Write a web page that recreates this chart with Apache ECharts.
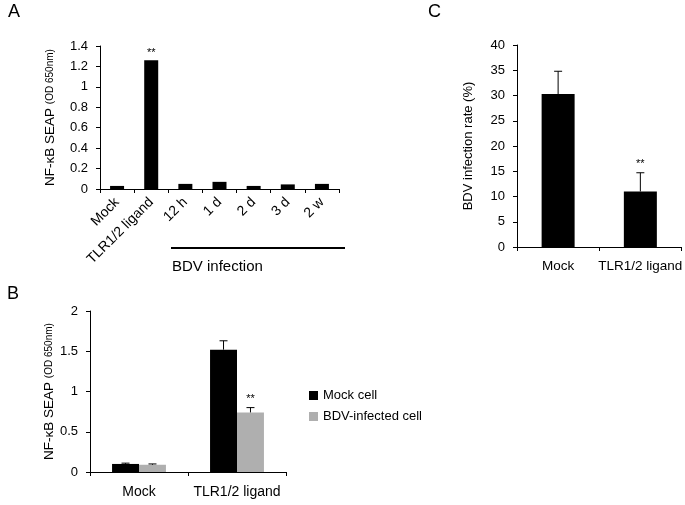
<!DOCTYPE html>
<html><head><meta charset="utf-8">
<script src="https://cdn.jsdelivr.net/npm/echarts@6/dist/echarts.min.js"></script>
<style>html,body{margin:0;padding:0;background:#fff}#c{width:685px;height:505px}</style>
</head><body><div id="c"></div>
<script>
// Panel A
const aCats = ['Mock', 'TLR1/2 ligand', '12 h', '1 d', '2 d', '3 d', '2 w'];
const aValues = [0.03, 1.26, 0.05, 0.07, 0.03, 0.045, 0.05];
const aSig = ['', '**', '', '', '', '', ''];
const aTicks = [0, 0.2, 0.4, 0.6, 0.8, 1, 1.2, 1.4];
// Panel B
const bCats = ['Mock', 'TLR1/2 ligand'];
const bSeriesNames = ['Mock cell', 'BDV-infected cell'];
const bMockCell = [0.10, 1.52];
const bMockCellErr = [0.01, 0.11];
const bInfected = [0.09, 0.74];
const bInfectedErr = [0.01, 0.06];
const bSigMock = ['', ''];
const bSigInf = ['', '**'];
// Panel C
const cCats = ['Mock', 'TLR1/2 ligand'];
const cValues = [30.3, 11.0];
const cErr = [4.5, 3.7];
const cSig = ['', '**'];

const FONT = 'Liberation Sans, Arial, sans-serif';
const chart = echarts.init(document.getElementById('c'));

function errRender(sigs, offsetFrac) {
  return function (params, api) {
    const i = api.value(0), v = api.value(1), e = api.value(2);
    const base = api.coord([i, v]);
    const top = api.coord([i, v + e]);
    const band = api.size([1, 0])[0];
    const x = base[0] + band * offsetFrac;
    const st = { stroke: '#000', lineWidth: 1 };
    const children = [
      { type: 'line', shape: { x1: x, y1: base[1], x2: x, y2: top[1] }, style: st },
      { type: 'line', shape: { x1: x - 4, y1: top[1], x2: x + 4, y2: top[1] }, style: st }
    ];
    if (sigs[i]) {
      children.push({ type: 'text', style: { text: sigs[i], x: x, y: top[1] - 3, textAlign: 'center', textVerticalAlign: 'bottom', font: '11px ' + FONT, fill: '#000' } });
    }
    return { type: 'group', children: children };
  };
}

const axisLine = { show: true, lineStyle: { color: '#000', width: 1 } };
const axisTick = { show: true, length: 4, lineStyle: { color: '#000' } };
const nameRich = { a: { fontSize: 13.5, fontFamily: FONT, color: '#000' }, b: { fontSize: 10, fontFamily: FONT, color: '#000' } };

const option = {
  animation: false,
  textStyle: { fontFamily: FONT, color: '#000' },
  grid: [
    { left: 100, right: 346, top: 46, bottom: 316 },
    { left: 90, right: 399, top: 311, bottom: 33 },
    { left: 517, right: 2, top: 45, bottom: 258 }
  ],
  legend: {
    data: bSeriesNames, orient: 'vertical', left: 304, top: 384,
    icon: 'rect', itemWidth: 9, itemHeight: 9, itemGap: 8,
    textStyle: { fontSize: 13, fontFamily: FONT, color: '#000' }
  },
  xAxis: [
    { gridIndex: 0, type: 'category', data: aCats, axisLine, axisTick,
      axisLabel: { rotate: 45, fontSize: 14, color: '#000', margin: 11, interval: 0, hideOverlap: false } },
    { gridIndex: 1, type: 'category', data: bCats, axisLine, axisTick,
      axisLabel: { fontSize: 14, color: '#000', margin: 13, interval: 0, hideOverlap: false } },
    { gridIndex: 2, type: 'category', data: cCats, axisLine, axisTick,
      axisLabel: { fontSize: 13.5, color: '#000', margin: 12, interval: 0, hideOverlap: false } }
  ],
  yAxis: [
    { gridIndex: 0, type: 'value', min: aTicks[0], max: aTicks[aTicks.length - 1], interval: 0.2,
      axisLine, axisTick, splitLine: { show: false },
      axisLabel: { fontSize: 13, color: '#000', margin: 12 },
      name: '{a|NF-κB SEAP }{b|(OD 650nm)}', nameLocation: 'middle', nameRotate: 90, nameGap: 43,
      nameTextStyle: { rich: nameRich } },
    { gridIndex: 1, type: 'value', min: 0, max: 2, interval: 0.5,
      axisLine, axisTick, splitLine: { show: false },
      axisLabel: { fontSize: 13, color: '#000', margin: 12 },
      name: '{a|NF-κB SEAP }{b|(OD 650nm)}', nameLocation: 'middle', nameRotate: 90, nameGap: 34,
      nameTextStyle: { rich: nameRich } },
    { gridIndex: 2, type: 'value', min: 0, max: 40, interval: 5,
      axisLine, axisTick, splitLine: { show: false },
      axisLabel: { fontSize: 13, color: '#000', margin: 12 },
      name: 'BDV infection rate (%)', nameLocation: 'middle', nameRotate: 90, nameGap: 42,
      nameTextStyle: { fontSize: 13, fontFamily: FONT, color: '#000' } }
  ],
  series: [
    { type: 'bar', xAxisIndex: 0, yAxisIndex: 0, barWidth: 14, itemStyle: { color: '#000' },
      data: aValues.map((v, i) => aSig[i] ? { value: v, label: { show: true, position: 'top', distance: 2, formatter: aSig[i], fontSize: 11, color: '#000' } } : v) },
    { name: bSeriesNames[0], type: 'bar', xAxisIndex: 1, yAxisIndex: 1, barWidth: '27.5%', barGap: '0%', itemStyle: { color: '#000' }, data: bMockCell },
    { name: bSeriesNames[1], type: 'bar', xAxisIndex: 1, yAxisIndex: 1, barWidth: '27.5%', barGap: '0%', itemStyle: { color: '#afafaf' }, data: bInfected },
    { type: 'custom', xAxisIndex: 1, yAxisIndex: 1, renderItem: errRender(bSigMock, -0.1375), encode: { x: 0, y: 1 }, z: 5,
      data: bMockCell.map((v, i) => [i, v, bMockCellErr[i]]) },
    { type: 'custom', xAxisIndex: 1, yAxisIndex: 1, renderItem: errRender(bSigInf, 0.1375), encode: { x: 0, y: 1 }, z: 5,
      data: bInfected.map((v, i) => [i, v, bInfectedErr[i]]) },
    { type: 'bar', xAxisIndex: 2, yAxisIndex: 2, barWidth: 33, itemStyle: { color: '#000' }, data: cValues },
    { type: 'custom', xAxisIndex: 2, yAxisIndex: 2, renderItem: errRender(cSig, 0), encode: { x: 0, y: 1 }, z: 5,
      data: cValues.map((v, i) => [i, v, cErr[i]]) }
  ],
  graphic: [
    { type: 'text', left: 8, top: 3, style: { text: 'A', font: '18px ' + FONT, fill: '#000' } },
    { type: 'text', left: 7, top: 285, style: { text: 'B', font: '18px ' + FONT, fill: '#000' } },
    { type: 'text', left: 428, top: 3, style: { text: 'C', font: '18px ' + FONT, fill: '#000' } },
    { type: 'line', shape: { x1: 171, y1: 248, x2: 345, y2: 248 }, style: { stroke: '#000', lineWidth: 2 } },
    { type: 'text', left: 172, top: 259, style: { text: 'BDV infection', font: '15px ' + FONT, fill: '#000' } }
  ]
};
chart.setOption(option);
</script></body></html>
